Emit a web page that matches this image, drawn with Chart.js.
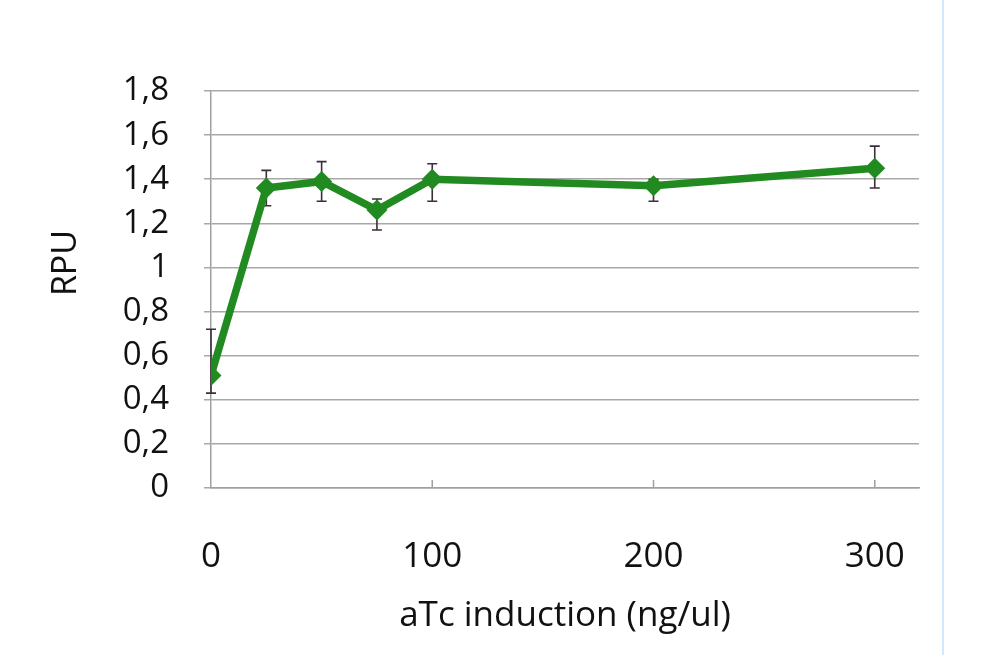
<!DOCTYPE html>
<html>
<head>
<meta charset="utf-8">
<script src="https://cdn.jsdelivr.net/npm/chart.js@4"></script>
<style>
html, body { margin: 0; padding: 0; background: #fff; }
#wrap { position: relative; width: 989px; height: 655px; }
#sep { position: absolute; left: 942px; top: 0; width: 2px; height: 655px; background: #d3e8fc; }
</style>
</head>
<body>
<div id="wrap">
    <canvas id="grafico" width="989" height="655"></canvas>
    <div id="sep"></div>
</div>
<script>
// Datos
const dosis = [0, 25, 50, 75, 100, 200, 300];
const rpu = [0.51, 1.36, 1.39, 1.26, 1.40, 1.37, 1.45];
const errSup = [0.21, 0.08, 0.09, 0.05, 0.07, 0.03, 0.10];
const errInf = [0.08, 0.08, 0.09, 0.09, 0.10, 0.07, 0.09];
const ticksX = [0, 100, 200, 300];
const tituloY = 'RPU';

const verde = '#218a21';
const fuente = '"Open Sans", Calibri, sans-serif';

// Barras de error, marcas de la escala X hacia dentro y titulo del eje Y
const barrasError = {
    id: 'barrasError',
    beforeDatasetsDraw(chart) {
        const ctx = chart.ctx;
        const x = chart.scales.x, y = chart.scales.y;
        ctx.save();
        ctx.strokeStyle = '#a0a0a0';
        ctx.lineWidth = 1.5;
        ticksX.forEach(v => {
            if (v === 0) return;
            const px = x.getPixelForValue(v);
            ctx.beginPath();
            ctx.moveTo(px, y.bottom);
            ctx.lineTo(px, y.bottom - 8);
            ctx.stroke();
        });
        ctx.strokeStyle = '#3b2f3b';
        ctx.lineWidth = 1.6;
        dosis.forEach((d, i) => {
            const px = x.getPixelForValue(d);
            const top = y.getPixelForValue(rpu[i] + errSup[i]);
            const bot = y.getPixelForValue(rpu[i] - errInf[i]);
            ctx.beginPath();
            ctx.moveTo(px, top); ctx.lineTo(px, bot);
            ctx.moveTo(px - 5, top); ctx.lineTo(px + 5, top);
            ctx.moveTo(px - 5, bot); ctx.lineTo(px + 5, bot);
            ctx.stroke();
        });
        // titulo del eje Y (en el original no esta centrado)
        ctx.translate(66, 263);
        ctx.rotate(-Math.PI / 2);
        ctx.fillStyle = '#111';
        ctx.font = '34px ' + fuente;
        ctx.textAlign = 'center';
        ctx.textBaseline = 'middle';
        ctx.fillText(tituloY, 0, 0);
        ctx.restore();
    }
};

const ctx = document.getElementById('grafico').getContext('2d');
const grafico = new Chart(ctx, {
    type: 'scatter',
    data: {
        datasets: [{
            label: 'RPU',
            data: dosis.map((d, i) => ({ x: d, y: rpu[i] })),
            showLine: true,
            tension: 0,
            borderColor: verde,
            borderWidth: 7.5,
            backgroundColor: verde,
            pointStyle: 'rectRot',
            pointRadius: 10.5,
            pointBackgroundColor: verde,
            pointBorderColor: verde,
            pointBorderWidth: 0
        }]
    },
    options: {
        responsive: false,
        animation: false,
        layout: { padding: { top: 91, right: 70, left: 0, bottom: 0 } },
        plugins: {
            legend: { display: false },
            tooltip: { enabled: false }
        },
        scales: {
            x: {
                type: 'linear',
                min: 0,
                max: 320,
                afterBuildTicks: (scale) => { scale.ticks = ticksX.map(v => ({ value: v })); },
                afterFit: (scale) => { scale.height = 167; },
                grid: { display: false },
                border: { display: true, color: '#a0a0a0', width: 1.5 },
                ticks: {
                    padding: 40,
                    color: '#111',
                    font: { family: fuente, size: 35 }
                },
                title: {
                    display: true,
                    text: 'aTc induction (ng/ul)',
                    color: '#111',
                    font: { family: fuente, size: 35 },
                    padding: { top: 0, bottom: 18 }
                }
            },
            y: {
                min: 0,
                max: 1.8,
                afterFit: (scale) => { scale.width = 211; },
                grid: { color: '#a8a8a8', lineWidth: 1.5, tickLength: 7, drawTicks: true },
                border: { display: true, color: '#a0a0a0', width: 1.5 },
                ticks: {
                    stepSize: 0.2,
                    padding: 35,
                    color: '#111',
                    font: { family: fuente, size: 33 },
                    callback: (v) => String(Math.round(v * 10) / 10).replace('.', ',')
                },
                title: { display: false }
            }
        }
    },
    plugins: [barrasError]
});
</script>
</body>
</html>
